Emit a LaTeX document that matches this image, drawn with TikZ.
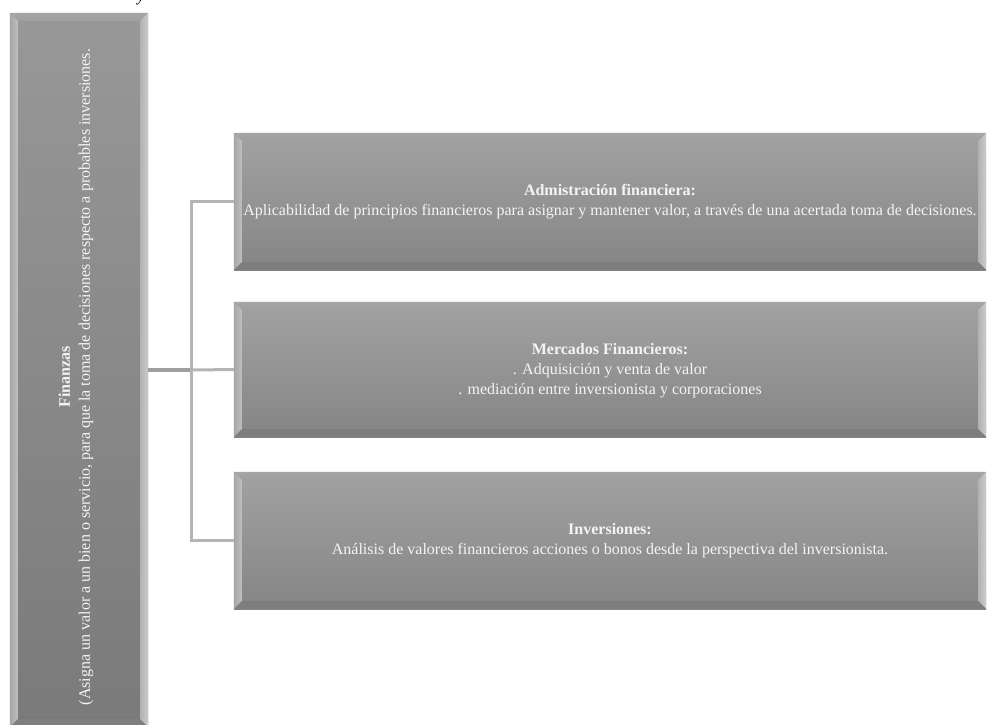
\documentclass[tikz,border=0pt]{standalone}
\usepackage{fontspec}
\setmainfont{Liberation Serif}
\definecolor{boxtop}{HTML}{A2A2A2}
\definecolor{boxbot}{HTML}{858585}
\definecolor{lefttop}{HTML}{989898}
\definecolor{leftbot}{HTML}{7A7A7A}
\definecolor{connc}{HTML}{B4B4B4}
\definecolor{txt}{HTML}{F4F4F4}
\definecolor{bevbot}{HTML}{7E7E7E}
\tikzset{
  gbox/.style={rectangle, inner sep=0pt, top color=boxtop, bottom color=boxbot, draw=none},
  lbox/.style={rectangle, inner sep=0pt, top color=lefttop, bottom color=leftbot, draw=none},
  btext/.style={text=txt, align=center, font=\fontsize{16}{20}\selectfont},
  conn/.style={draw=connc, line width=3pt},
}
\newcommand{\bevel}[2]{%
  \shade[top color=gray!70, middle color=white!95!gray, bottom color=gray!75]
    (#1.north west) -- (#1.north east) -- ([shift={(-#2,#2)}]#1.north east) -- ([shift={(#2,#2)}]#1.north west) -- cycle;
  \shade[left color=gray!70, right color=gray!50]
    (#1.north west) -- ([shift={(#2,#2)}]#1.north west) -- ([shift={(#2,-#2)}]#1.south west) -- (#1.south west) -- cycle;
  \shade[left color=gray!60, right color=gray!40]
    (#1.north east) -- ([shift={(-#2,#2)}]#1.north east) -- ([shift={(-#2,-#2)}]#1.south east) -- (#1.south east) -- cycle;
  \fill[bevbot]
    (#1.south west) -- ([shift={(#2,-#2)}]#1.south west) -- ([shift={(-#2,-#2)}]#1.south east) -- (#1.south east) -- cycle;
}
\begin{document}
\begin{tikzpicture}[x=1pt,y=-1pt]
\useasboundingbox (0,0) rectangle (987,724);
\fill[white] (0,0) rectangle (987,724);

% fragment of caption above
\node[anchor=base, inner sep=0pt, font=\fontsize{16}{18}\selectfont\itshape] (cap) at (141,1) {y};

% left tall box
\node[lbox, minimum width=138pt, minimum height=714pt] (fin) at (79,370) {};
\bevel{fin}{8}
\node[btext, rotate=90] (fintext) at (76,377)
  {\textbf{Finanzas}\\(Asigna un valor a un bien o servicio, para que la toma de decisiones respecto a  probables inversiones.};

% right boxes
\node[gbox, minimum width=752pt, minimum height=137pt] (b1) at (610,201.5) {};
\bevel{b1}{8}
\node[btext] (t1) at (b1.center)
  {\textbf{Admistración financiera:}\\Aplicabilidad de principios financieros para asignar y mantener valor, a través de una acertada toma de decisiones.};

\node[gbox, minimum width=752pt, minimum height=135pt] (b2) at (610,369.5) {};
\bevel{b2}{8}
\node[btext] (t2) at ([yshift=-1pt]b2.center)
  {\textbf{Mercados Financieros:}\\. Adquisición y venta de valor\\. mediación entre inversionista y corporaciones};

\node[gbox, minimum width=752pt, minimum height=137pt] (b3) at (610,540.5) {};
\bevel{b3}{8}
\node[btext] (t3) at (b3.center)
  {\textbf{Inversiones:}\\Análisis de valores financieros acciones o bonos desde la perspectiva del inversionista.};

% connectors
\coordinate (hub) at (191,370);
\draw[draw=gray!75, line width=3.5pt] (fin.east |- hub) -- (hub);
\draw[conn] (b1.west) -- (b1.west -| hub) -- (b3.west -| hub) -- (b3.west);
\draw[conn] (hub) -- (b2.west);
\end{tikzpicture}
\end{document}
